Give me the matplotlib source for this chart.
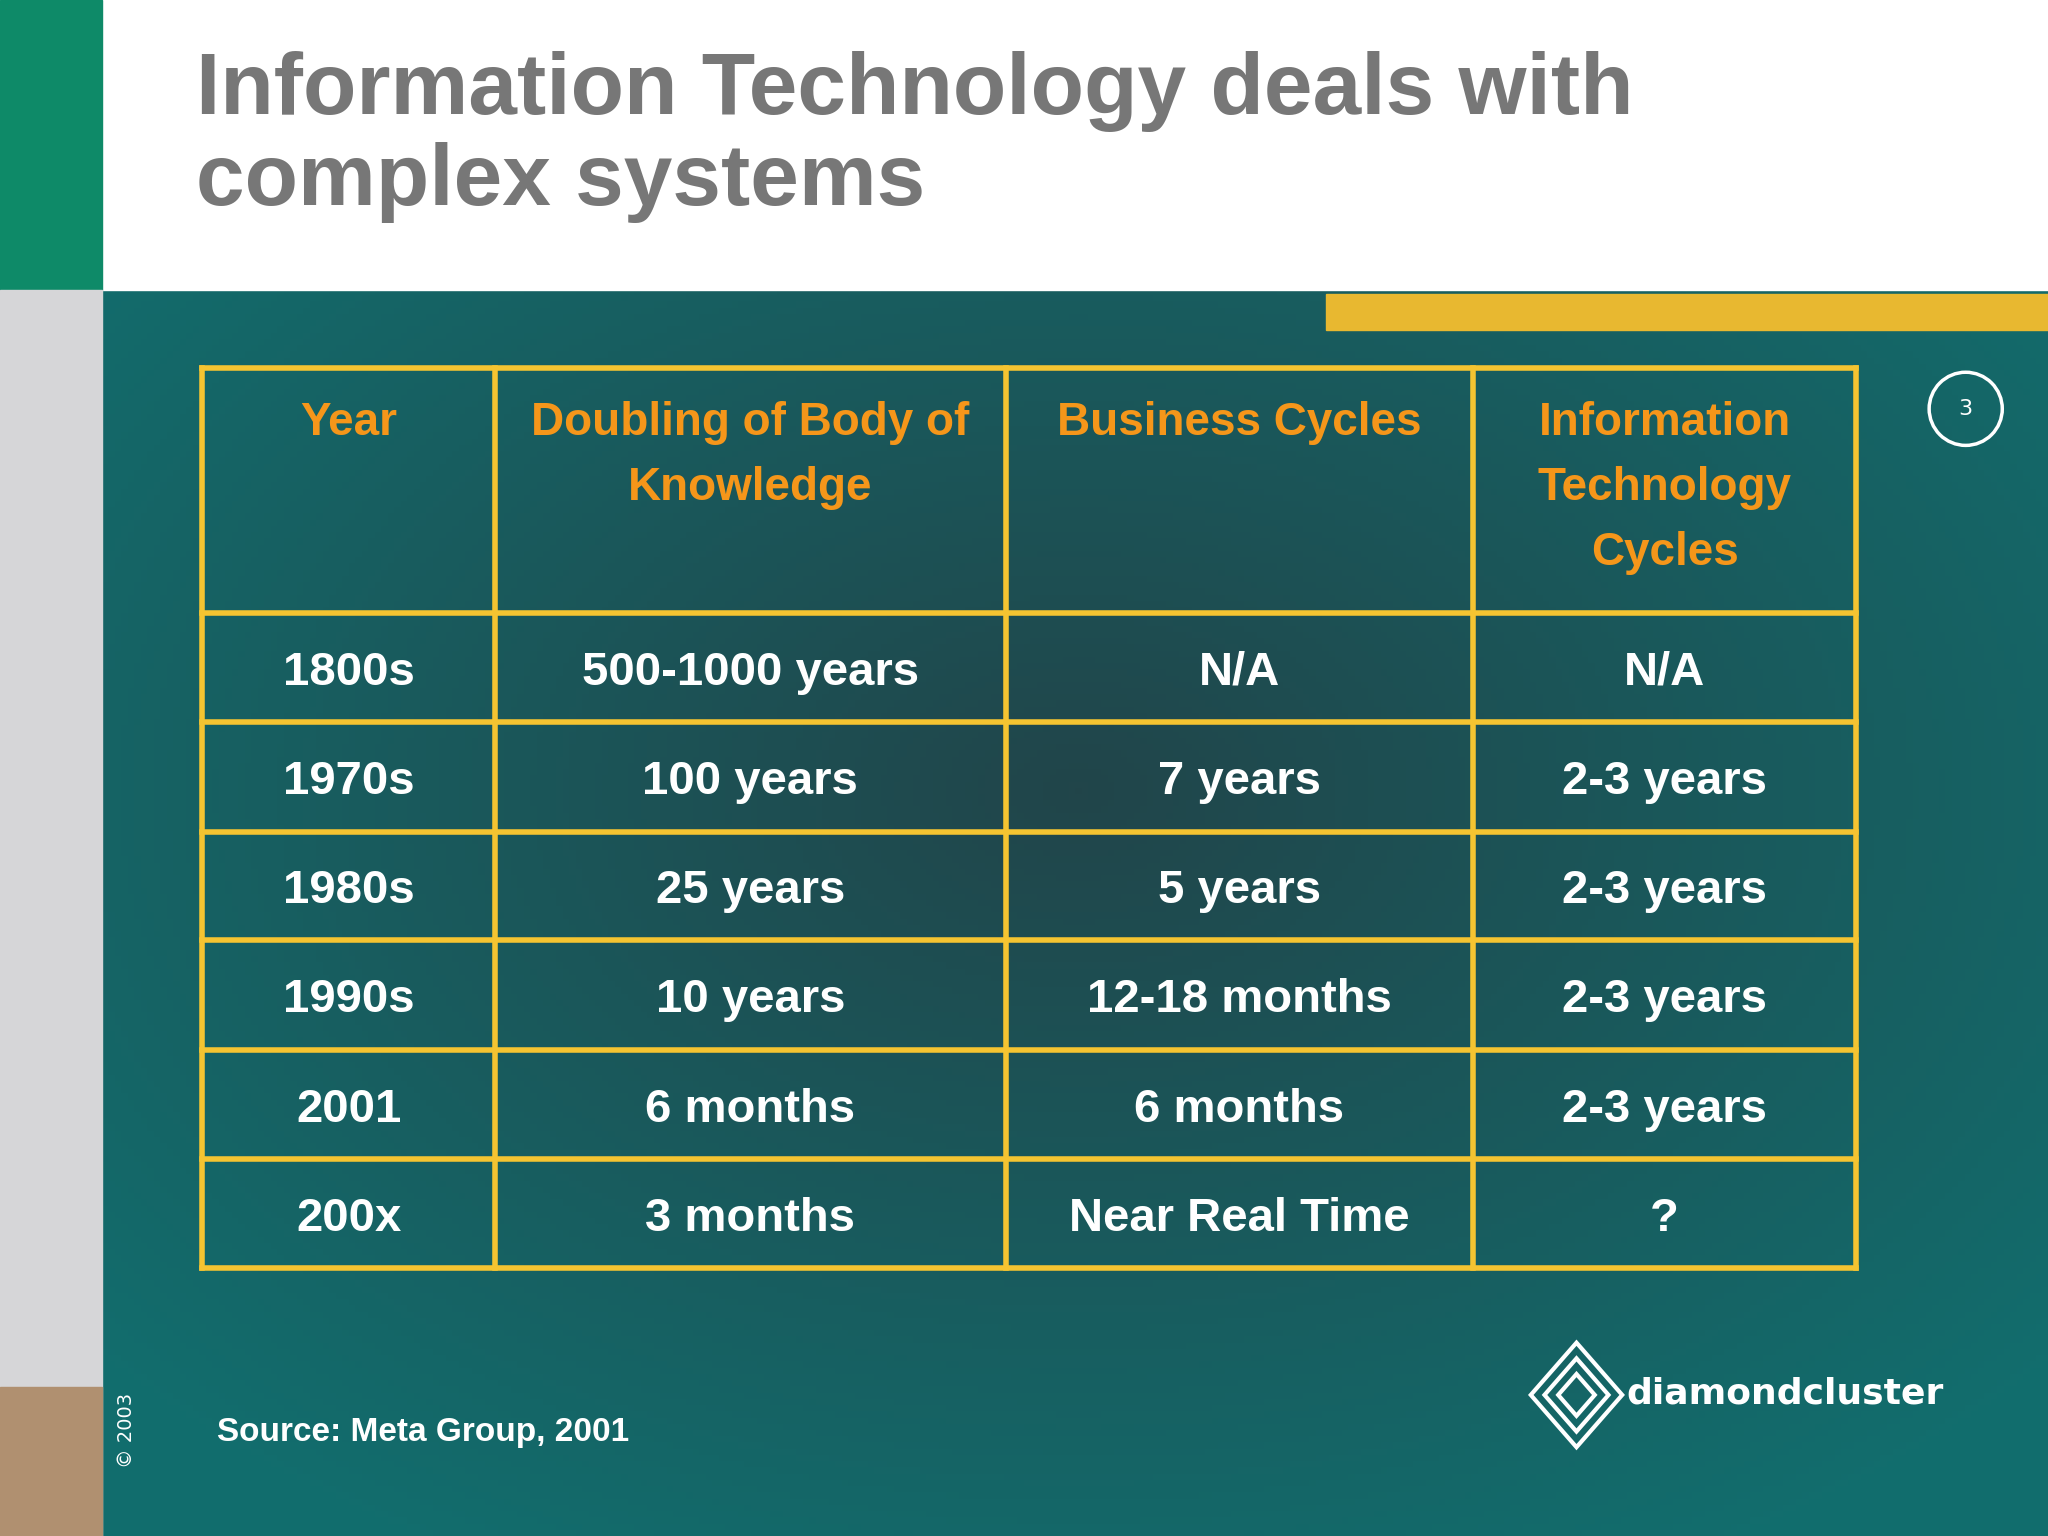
import matplotlib
matplotlib.use("Agg")
import matplotlib.pyplot as plt
import numpy as np
from matplotlib.patches import Rectangle, Circle, Polygon
from matplotlib import font_manager as fm

title_lines = ["Information Technology deals with", "complex systems"]
headers = ["Year", "Doubling of Body of\nKnowledge", "Business Cycles", "Information\nTechnology\nCycles"]
years = ["1800s", "1970s", "1980s", "1990s", "2001", "200x"]
knowledge = ["500-1000 years", "100 years", "25 years", "10 years", "6 months", "3 months"]
business = ["N/A", "7 years", "5 years", "12-18 months", "6 months", "Near Real Time"]
itcycles = ["N/A", "2-3 years", "2-3 years", "2-3 years", "2-3 years", "?"]
source = "Source: Meta Group, 2001"

names = {f.name for f in fm.fontManager.ttflist}
FONT = "Liberation Sans Narrow" if "Liberation Sans Narrow" in names else "Liberation Sans"

W, H = 1568, 1176
fig = plt.figure(figsize=(20.48, 15.36), dpi=100)
ax = fig.add_axes([0, 0, 1, 1])
ax.set_xlim(0, W); ax.set_ylim(H, 0); ax.axis("off")

yy, xx = np.mgrid[0:200, 0:300]
cx, cy = 150, 80
d = np.sqrt(((xx - cx) / 200.0) ** 2 + ((yy - cy) / 140.0) ** 2)
base = np.array([0.07, 0.43, 0.43]); dark = np.array([0.13, 0.27, 0.29])
t = np.clip(1 - d, 0, 1)[..., None]
img = base * (1 - t) + dark * t
ax.imshow(img, extent=[78, W, H, 222], aspect="auto", zorder=0)

ax.add_patch(Rectangle((78, 0), W - 78, 222, color="white", zorder=1))
ax.add_patch(Rectangle((0, 0), 78, 222, color="#0e8a68", zorder=1))
ax.add_patch(Rectangle((0, 222), 78, H - 222, color="#d6d6d8", zorder=1))
ax.add_patch(Rectangle((0, 1062), 78, H - 1062, color="#b09070", zorder=1))
ax.add_patch(Rectangle((1015, 225), W - 1015, 28, color="#e8b830", zorder=1))

ax.text(150, 70, title_lines[0], fontsize=63, fontweight="bold", family=FONT,
        color="#777777", va="center", ha="left", zorder=3)
ax.text(150, 140, title_lines[1], fontsize=63, fontweight="bold", family=FONT,
        color="#777777", va="center", ha="left", zorder=3)

xs = [155, 379, 770, 1128, 1421]
ys = [282, 469, 553, 637, 720, 804, 887, 971]
yel = "#f5c431"
for x in xs:
    ax.plot([x, x], [ys[0], ys[-1]], color=yel, lw=4, zorder=4)
for y in ys:
    ax.plot([xs[0], xs[-1]], [y, y], color=yel, lw=4, zorder=4)

for i, h in enumerate(headers):
    ax.text((xs[i] + xs[i + 1]) / 2, 307, h, fontsize=33, fontweight="bold", family=FONT,
            color="#f5961a", ha="center", va="top", linespacing=1.62, zorder=5)

cols = [years, knowledge, business, itcycles]
for r in range(6):
    yc = (ys[r + 1] + ys[r + 2]) / 2 + 4
    for c in range(4):
        ax.text((xs[c] + xs[c + 1]) / 2, yc, cols[c][r], fontsize=34, fontweight="bold",
                family=FONT, color="white", ha="center", va="center", zorder=5)

ax.add_patch(Circle((1505, 313), 28, fill=False, ec="white", lw=2.5, zorder=5))
ax.text(1505, 313, "3", fontsize=16, color="white", ha="center", va="center", zorder=6)

ax.text(97, 1095, "© 2003", fontsize=14, color="white", rotation=90, ha="center", va="center", zorder=6)
ax.text(166, 1097, source, fontsize=24, fontweight="bold", family=FONT, color="white",
        ha="left", va="center", zorder=6)

for k, s in enumerate([1.0, 0.7, 0.4]):
    pts = [(1207, 1068 - 40 * s), (1207 + 35 * s, 1068), (1207, 1068 + 40 * s), (1207 - 35 * s, 1068)]
    ax.add_patch(Polygon(pts, closed=True, fill=False, ec="white", lw=3, zorder=6))
ax.text(1245, 1067, "diamondcluster", fontsize=26, fontweight="bold", color="white",
        ha="left", va="center", zorder=6)

fig.savefig("out.png", dpi=100)
